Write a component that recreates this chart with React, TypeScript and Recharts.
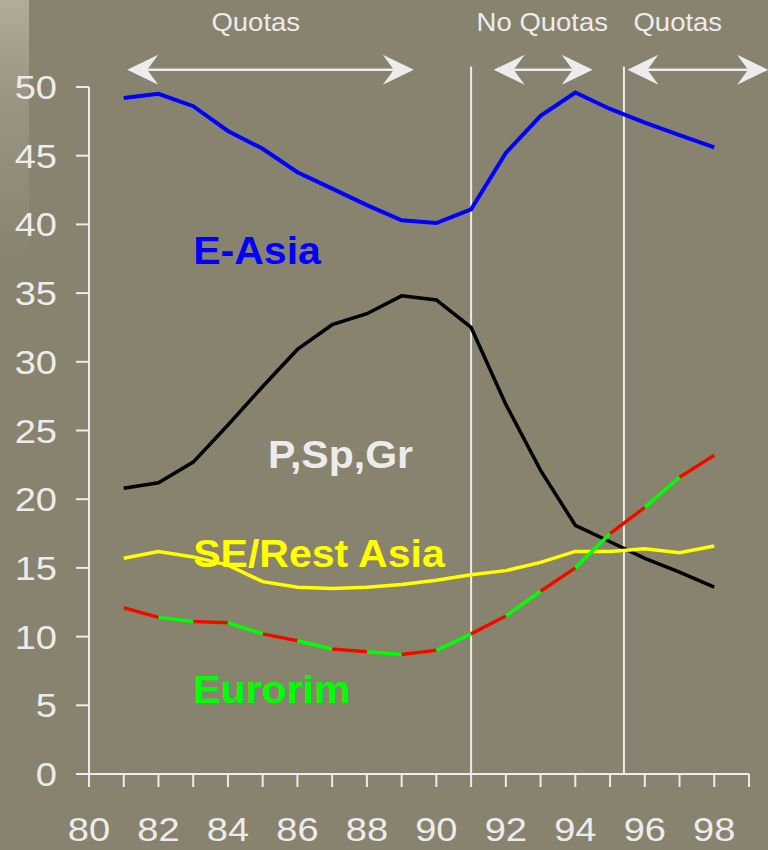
import React from 'react';
import { LineChart, Line, XAxis, YAxis, ReferenceLine, ReferenceDot } from 'recharts';

const years = [81, 82, 83, 84, 85, 86, 87, 88, 89, 90, 91, 92, 93, 94, 95, 96, 97, 98];
const eAsia = [49.2, 49.5, 48.6, 46.8, 45.5, 43.8, 42.6, 41.4, 40.3, 40.1, 41.1, 45.2, 47.9, 49.6, 48.4, 47.4, 46.5, 45.6];
const pSpGr = [20.8, 21.2, 22.7, 25.4, 28.2, 30.9, 32.7, 33.5, 34.8, 34.5, 32.5, 26.9, 22.1, 18.1, 16.9, 15.7, 14.7, 13.6];
const seRestAsia = [15.7, 16.2, 15.8, 15.2, 14.0, 13.6, 13.5, 13.6, 13.8, 14.1, 14.5, 14.8, 15.4, 16.2, 16.2, 16.4, 16.1, 16.6];
const eurorim = [12.1, 11.4, 11.1, 11.0, 10.2, 9.7, 9.1, 8.9, 8.7, 9.0, 10.2, 11.5, 13.3, 15.0, 17.5, 19.4, 21.6, 23.2];

const xTicks = [80, 81, 82, 83, 84, 85, 86, 87, 88, 89, 90, 91, 92, 93, 94, 95, 96, 97, 98, 99];
const yTicks = [0, 5, 10, 15, 20, 25, 30, 35, 40, 45, 50];

// regime boundaries, arrows and their captions (x in years, y in %)
const dividers = [91, 95.4];
const dividerTop = 51.5;
const arrowY = 51.25;
const arrows = [
  [81.1, 89.35],
  [91.65, 94.5],
  [95.5, 99.55],
];
const regimeLabels = [
  { text: 'Quotas', x: 84.8 },
  { text: 'No Quotas', x: 93.05 },
  { text: 'Quotas', x: 96.95 },
];
const regimeLabelY = 54.1;

const seriesLabels = [
  { text: 'E-Asia', x: 83, y: 37.1, color: '#0000ff' },
  { text: 'P,Sp,Gr', x: 85.15, y: 22.3, color: '#ececec' },
  { text: 'SE/Rest Asia', x: 83, y: 15.1, color: '#ffff00' },
  { text: 'Eurorim', x: 83, y: 5.2, color: '#00ff00' },
];

// Eurorim alternates red / green from one year to the next:
// green runs the whole way, two red series cover every other segment
const data = years.map((year, i) => {
  const k = (year - 81) % 4;
  return {
    year,
    eAsia: eAsia[i],
    pSpGr: pSpGr[i],
    seRestAsia: seRestAsia[i],
    eurorim: eurorim[i],
    eurorimRedA: k < 2 ? eurorim[i] : null,
    eurorimRedB: k >= 2 ? eurorim[i] : null,
  };
});

const FONT = '"Liberation Sans", Arial, sans-serif';
const AXIS = '#ececec';
// the slide lettering is a little wider than Arial
const STRETCH = 1.1;

const ArrowShape = (props: any) => {
  const { x1, y1, x2 } = props;
  const len = 31;
  const half = 15;
  const notch = 20;
  const left = `${x1},${y1} ${x1 + len},${y1 - half} ${x1 + notch},${y1} ${x1 + len},${y1 + half}`;
  const right = `${x2},${y1} ${x2 - len},${y1 - half} ${x2 - notch},${y1} ${x2 - len},${y1 + half}`;
  return (
    <g>
      <line x1={x1 + notch} y1={y1} x2={x2 - notch} y2={y1} stroke={AXIS} strokeWidth={2.5} />
      <polygon points={left} fill={AXIS} />
      <polygon points={right} fill={AXIS} />
    </g>
  );
};

const textShape = (text: string, color: string, size: number, bold: boolean, anchor: 'start' | 'middle', sx: number) =>
  (props: any) => (
    <text
      x={0}
      y={0}
      transform={`translate(${props.cx},${props.cy}) scale(${sx},1)`}
      fill={color}
      fontSize={size}
      fontWeight={bold ? 'bold' : 'normal'}
      fontFamily={FONT}
      textAnchor={anchor}
    >
      {text}
    </text>
  );

const XTick = (props: any) => {
  const { x, y, payload } = props;
  const v = payload.value;
  if (v % 2 !== 0 || v > 98) return <g />;
  return (
    <text
      x={0}
      y={0}
      dy="0.71em"
      transform={`translate(${x},${y}) scale(${STRETCH + 0.02},1)`}
      textAnchor="middle"
      fill={AXIS}
      fontSize={34}
      fontFamily={FONT}
    >
      {v}
    </text>
  );
};

const YTick = (props: any) => {
  const { x, y, payload } = props;
  return (
    <text
      x={0}
      y={0}
      dy="0.355em"
      transform={`translate(${x},${y}) scale(${STRETCH + 0.02},1)`}
      textAnchor="end"
      fill={AXIS}
      fontSize={34}
      fontFamily={FONT}
    >
      {payload.value}
    </text>
  );
};

export default function App() {
  return (
    <div
      style={{
        position: 'absolute',
        left: 0,
        top: 0,
        width: 768,
        height: 850,
        background: '#88836e',
        overflow: 'hidden',
      }}
    >
      <div
        style={{
          position: 'absolute',
          left: 0,
          top: 0,
          width: 29,
          height: 260,
          background: 'linear-gradient(180deg, rgba(190,186,170,0.75) 0%, rgba(190,186,170,0.35) 35%, rgba(190,186,170,0) 100%)',
        }}
      />
      <LineChart
        width={768}
        height={850}
        data={data}
        margin={{ top: 87, right: 19, left: 0, bottom: 0 }}
        style={{ position: 'absolute', left: 0, top: 0 }}
      >
        <XAxis
          dataKey="year"
          type="number"
          domain={[80, 99]}
          ticks={xTicks}
          interval={0}
          height={76}
          tickSize={13}
          tickMargin={30}
          axisLine={{ stroke: AXIS, strokeWidth: 2 }}
          tickLine={{ stroke: AXIS, strokeWidth: 2 }}
          tick={XTick}
        />
        <YAxis
          type="number"
          domain={[0, 50]}
          ticks={yTicks}
          interval={0}
          width={89}
          tickSize={13}
          tickMargin={19}
          axisLine={{ stroke: AXIS, strokeWidth: 2 }}
          tickLine={{ stroke: AXIS, strokeWidth: 2 }}
          tick={YTick}
        />
        {dividers.map((x) => (
          <ReferenceLine
            key={`div-${x}`}
            segment={[{ x, y: 0 }, { x, y: dividerTop }]}
            stroke={AXIS}
            strokeWidth={2}
            ifOverflow="visible"
          />
        ))}
        {arrows.map(([a, b]) => (
          <ReferenceLine
            key={`arrow-${a}`}
            segment={[{ x: a, y: arrowY }, { x: b, y: arrowY }]}
            ifOverflow="visible"
            shape={ArrowShape}
          />
        ))}
        {regimeLabels.map((l) => (
          <ReferenceDot
            key={`rl-${l.x}`}
            x={l.x}
            y={regimeLabelY}
            r={0}
            ifOverflow="visible"
            shape={textShape(l.text, AXIS, 25, false, 'middle', STRETCH)}
          />
        ))}
        <Line dataKey="eAsia" stroke="#0000ff" strokeWidth={4} dot={false} isAnimationActive={false} />
        <Line dataKey="pSpGr" stroke="#000000" strokeWidth={3.5} dot={false} isAnimationActive={false} />
        <Line dataKey="seRestAsia" stroke="#ffff00" strokeWidth={3.5} dot={false} isAnimationActive={false} />
        <Line dataKey="eurorim" stroke="#00ff00" strokeWidth={3.5} dot={false} isAnimationActive={false} />
        <Line dataKey="eurorimRedA" stroke="#ff0000" strokeWidth={3.5} dot={false} connectNulls={false} isAnimationActive={false} />
        <Line dataKey="eurorimRedB" stroke="#ff0000" strokeWidth={3.5} dot={false} connectNulls={false} isAnimationActive={false} />
        {seriesLabels.map((l) => (
          <ReferenceDot
            key={`sl-${l.text}`}
            x={l.x}
            y={l.y}
            r={0}
            ifOverflow="visible"
            shape={textShape(l.text, l.color, 38, true, 'start', 1.08)}
          />
        ))}
      </LineChart>
    </div>
  );
}
